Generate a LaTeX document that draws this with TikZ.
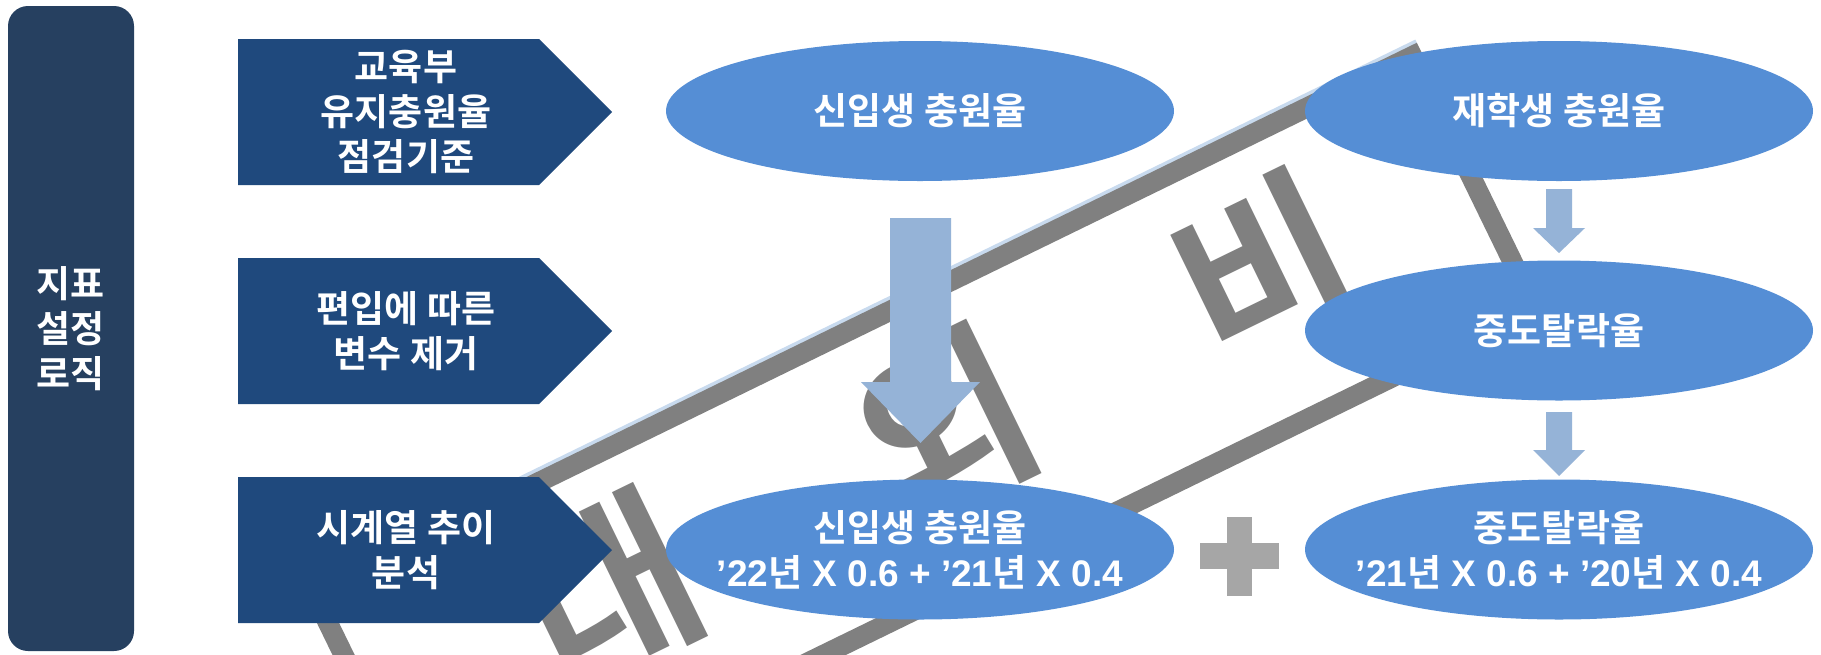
\documentclass[tikz,border=0pt]{standalone}
\usepackage{fontspec}
\setmainfont{Noto Sans CJK KR}[BoldFont={Noto Sans CJK KR Bold}]
\newfontfamily\latf{Liberation Sans}
\usetikzlibrary{shapes.geometric}
\definecolor{navyL}{RGB}{38,64,96}
\definecolor{navy}{RGB}{31,73,125}
\definecolor{ellblue}{RGB}{85,142,213}
\definecolor{arrblue}{RGB}{149,179,215}
\definecolor{stampgray}{RGB}{128,128,128}
\definecolor{glowblue}{RGB}{200,218,238}
\definecolor{plusgray}{RGB}{166,166,166}
\begin{document}
\begin{tikzpicture}[x=1pt,y=-1pt,
  txt/.style={text=white, font=\fontsize{37}{45}\selectfont\bfseries, align=center, inner sep=0pt},
  ell/.style={ellipse, fill=ellblue, minimum width=508pt, minimum height=140pt, inner sep=0pt},
  penta/.style={fill=navy},
  blockarrow/.style={fill=arrblue},
  stamptxt/.style={text=stampgray, font=\fontsize{185}{185}\selectfont\bfseries, inner sep=0pt}]
\useasboundingbox (0,0) rectangle (1821,654);
\fill[white] (0,0) rectangle (1821,654);

% watermark stamp
\begin{scope}[shift={(924,450)}, rotate=26, transform shape]
  \draw[glowblue, line width=4pt] (-621.5,-151.5) -- (621.5,-151.5);
  \draw[stampgray, line width=20pt] (-611.5,-140) rectangle (611.5,140);
  \node[stamptxt] (wm1) at (-345,-13) {대};
  \node[stamptxt] (wm2) at (30,-13) {외};
  \node[stamptxt] (wm3) at (385,-13) {비};
\end{scope}

% left bar
\node[fill=navyL, rounded corners=20pt, minimum width=126pt, minimum height=645pt, inner sep=0pt] (side) at (71,328.5) {};
\node[txt] (sidetxt) at (side.center) {지표\\설정\\로직};

% pentagons
\fill[penta] (238,39) -- (539,39) -- (612,112) -- (539,185) -- (238,185) -- cycle;
\fill[penta] (238,258) -- (539,258) -- (612,331) -- (539,404) -- (238,404) -- cycle;
\fill[penta] (238,477) -- (539,477) -- (612,550) -- (539,623) -- (238,623) -- cycle;
\node[txt] (p1) at (406,112) {교육부\\유지충원율\\점검기준};
\node[txt] (p2) at (406,331) {편입에 따른\\변수 제거};
\node[txt] (p3) at (406,550) {시계열 추이\\분석};

% ellipses
\node[ell] (e1) at (920,111) {};
\node[ell] (e2) at (1559,111) {};
\node[ell] (e3) at (1559,330.5) {};
\node[ell] (e4) at (920,549.5) {};
\node[ell] (e5) at (1559,549.5) {};
\node[txt] (t1) at (e1.center) {신입생 충원율};
\node[txt] (t2) at (e2.center) {재학생 충원율};
\node[txt] (t3) at (e3.center) {중도탈락율};
\node[txt] (t4) at (e4.center) {신입생 충원율\\{\latf ’22}년{\latf\ X 0.6 + ’21}년{\latf\ X 0.4}};
\node[txt] (t5) at (e5.center) {중도탈락율\\{\latf ’21}년{\latf\ X 0.6 + ’20}년{\latf\ X 0.4}};

% block arrows
\fill[blockarrow] (890,218) -- (951,218) -- (951,382) -- (980,382) -- (920.5,443) -- (861,382) -- (890,382) -- cycle;
\fill[blockarrow] (1546,189) -- (1572,189) -- (1572,228) -- (1585,228) -- (1559,253) -- (1533,228) -- (1546,228) -- cycle;
\fill[blockarrow] (1546,412) -- (1572,412) -- (1572,450) -- (1585,450) -- (1559,476) -- (1533,450) -- (1546,450) -- cycle;

% plus
\fill[plusgray] (1200,543) rectangle (1279,569);
\fill[plusgray] (1227,517) rectangle (1252,596);
\end{tikzpicture}
\end{document}
